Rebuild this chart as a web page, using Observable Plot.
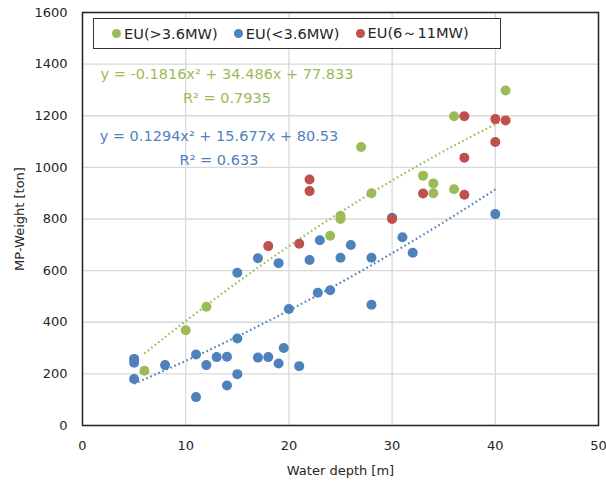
<!DOCTYPE html>
<html>
<head>
<meta charset="utf-8">
<script src="https://cdn.jsdelivr.net/npm/d3@7"></script>
<script src="https://cdn.jsdelivr.net/npm/@observablehq/plot@0.6"></script>
<style>
  body { margin: 0; background: #fff; }
  #chart { position: relative; width: 606px; height: 486px; font-family: "DejaVu Sans", Verdana, sans-serif; }
  #chart svg { display: block; }
  .legend { position: absolute; left: 93px; top: 18px; width: 388px; height: 29px; border: 1.5px solid #333;
            background: #fff; display: flex; align-items: center; padding-left: 18px; box-sizing: content-box;
            font-size: 14.6px; color: #262626; gap: 16px; }
  .legend .item { display: flex; align-items: center; white-space: nowrap; }
  .legend .dot { width: 9px; height: 9px; border-radius: 50%; margin-right: 3px; }
  .eq { position: absolute; font-size: 14.5px; text-align: center; line-height: 24px; white-space: nowrap; transform: translateX(-50%); }
</style>
</head>
<body>
<div id="chart"></div>
<script>
// Series: water depth [m] and monopile weight [ton]
const seriesNames = ["EU(>3.6MW)", "EU(<3.6MW)", "EU(6～11MW)"];
const seriesColors = ["#9bbb59", "#4f81bd", "#c0504d"];

const bigX = [6, 10, 12, 24, 25, 25, 27, 28, 33, 34, 34, 36, 36, 41];
const bigY = [212, 369, 460, 735, 812, 800, 1079, 900, 968, 938, 900, 915, 1198, 1298];

const smallX = [5, 5, 5, 8, 11, 11, 12, 13, 14, 14, 15, 15, 15, 17, 17, 18, 19, 19, 19.5, 20, 21, 22, 23, 22.8, 24, 25, 26, 28, 28, 30, 31, 32, 40];
const smallY = [258, 243, 180, 234, 275, 110, 234, 265, 266, 155, 337, 199, 592, 648, 263, 265, 629, 240, 300, 451, 230, 641, 718, 514, 524, 650, 699, 650, 468, 805, 729, 669, 819];

const largeX = [18, 21, 22, 22, 30, 33, 37, 37, 37, 40, 40, 40, 41];
const largeY = [695, 704, 953, 908, 800, 899, 1198, 1037, 894, 1497, 1187, 1098, 1182];

// Polynomial trendline coefficients [a2, a1, a0] and R² as printed on the chart
const bigFit = [-0.1816, 34.486, 77.833];
const bigR2 = "0.7935";
const smallFit = [0.1294, 15.677, 80.53];
const smallR2 = "0.633";

const xTicks = [0, 10, 20, 30, 40, 50];
const yTicks = [0, 200, 400, 600, 800, 1000, 1200, 1400, 1600];

const toRows = (xs, ys, s) => xs.map((x, i) => ({x, y: ys[i], s}));
const bigPts = toRows(bigX, bigY, 0);
const smallPts = toRows(smallX, smallY, 1);
const largePts = toRows(largeX, largeY, 2);

// Trendline sampled across each series' depth range
function curve(xs, c) {
  const [lo, hi] = d3.extent(xs);
  const n = 120;
  return d3.range(n + 1).map(i => {
    const x = lo + (hi - lo) * i / n;
    return {x, y: c[0] * x * x + c[1] * x + c[2]};
  });
}

const fmt = (c) => {
  const t = (v) => (v < 0 ? "- " : "+ ") + Math.abs(v);
  return `y = ${c[0]}x² ${t(c[1])}x ${t(c[2])}`;
};

const dotted = {strokeWidth: 2.2, strokeDasharray: "1.6 2.8", strokeLinecap: "butt"};

const plot = Plot.plot({
  width: 606,
  height: 486,
  marginLeft: 82,
  marginRight: 8,
  marginTop: 12,
  marginBottom: 61,
  style: {fontFamily: '"DejaVu Sans", Verdana, sans-serif', fontSize: "13px", color: "#262626", background: "#fff"},
  x: {domain: [0, 50], ticks: xTicks},
  y: {domain: [0, 1600], ticks: yTicks},
  marks: [
    Plot.gridX(xTicks, {stroke: "#d9d9d9", strokeOpacity: 1, strokeWidth: 1.3}),
    Plot.gridY(yTicks, {stroke: "#d9d9d9", strokeOpacity: 1, strokeWidth: 1.3}),
    Plot.axisX({ticks: xTicks, tickSize: 0, tickPadding: 15, tickFormat: d => String(d), label: "Water depth [m]", labelAnchor: "center", labelArrow: "none", labelOffset: 49}),
    Plot.axisY({ticks: yTicks, tickSize: 0, tickPadding: 15, tickFormat: d => String(d), label: "MP-Weight [ton]", labelAnchor: "center", labelArrow: "none", labelOffset: 68}),
    Plot.line(curve(bigX, bigFit), {x: "x", y: "y", stroke: seriesColors[0], ...dotted}),
    Plot.line(curve(smallX, smallFit), {x: "x", y: "y", stroke: seriesColors[1], ...dotted}),
    Plot.dot(bigPts, {x: "x", y: "y", r: 5, fill: seriesColors[0]}),
    Plot.dot(smallPts, {x: "x", y: "y", r: 5, fill: seriesColors[1]}),
    Plot.dot(largePts, {x: "x", y: "y", r: 5, fill: seriesColors[2]}),
    Plot.frame({stroke: "#262626", strokeWidth: 1.5})
  ]
});

const chart = document.getElementById("chart");
chart.appendChild(plot);

// Legend box inside the plotting area
const legend = document.createElement("div");
legend.className = "legend";
seriesNames.forEach((name, i) => {
  const item = document.createElement("div");
  item.className = "item";
  const dot = document.createElement("span");
  dot.className = "dot";
  dot.style.background = seriesColors[i];
  const label = document.createElement("span");
  label.textContent = name;
  item.append(dot, label);
  legend.appendChild(item);
});
chart.appendChild(legend);

// Trendline equations
function addEq(c, r2, color, cx, top) {
  const el = document.createElement("div");
  el.className = "eq";
  el.style.color = color;
  el.style.left = cx + "px";
  el.style.top = top + "px";
  const l1 = document.createElement("div"); l1.textContent = fmt(c);
  const l2 = document.createElement("div"); l2.textContent = "R² = " + r2;
  el.append(l1, l2);
  chart.appendChild(el);
}
addEq(bigFit, bigR2, seriesColors[0], 227, 62);
addEq(smallFit, smallR2, seriesColors[1], 219, 124);
</script>
</body>
</html>
